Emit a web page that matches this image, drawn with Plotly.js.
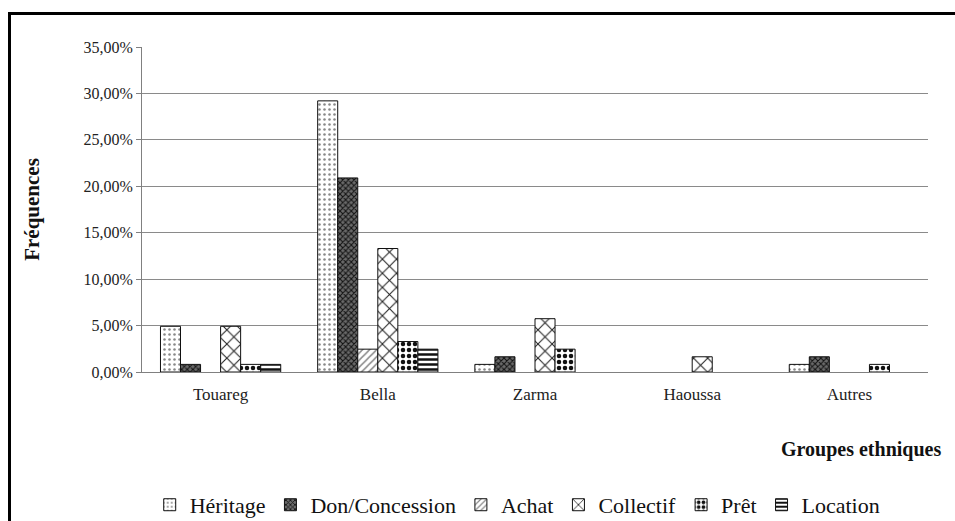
<!DOCTYPE html>
<html>
<head>
<meta charset="utf-8">
<script src="https://cdn.plot.ly/plotly-3.0.1.min.js"></script>
<style>
  html, body { margin: 0; padding: 0; background: #fff; }
  #wrap { position: relative; width: 955px; height: 521px; overflow: hidden; }
  #chart { position: absolute; left: 0; top: 0; width: 955px; height: 521px; }
  #frame { position: absolute; left: 8px; top: 12px; width: 960px; height: 530px;
           border-left: 3px solid #000; border-top: 3px solid #000; pointer-events: none; }
  #chart .legendtext { font-family: "Liberation Serif", "Times New Roman", serif !important; }
</style>
</head>
<body>
<div id="wrap">
  <div id="chart"></div>
  <div id="frame"></div>
</div>
<script>
// Data (percent values)
const categories = ["Touareg", "Bella", "Zarma", "Haoussa", "Autres"];
const heritage    = [4.92, 29.2, 0.82, 0, 0.82];
const donConcess  = [0.82, 20.9, 1.64, 0, 1.64];
const achat       = [0, 2.46, 0, 0, 0];
const collectif   = [4.92, 13.3, 5.74, 1.64, 0];
const pret        = [0.82, 3.28, 2.46, 0, 0.82];
const location_   = [0.82, 2.46, 0, 0, 0];
const seriesNames = ["Héritage", "Don/Concession", "Achat", "Collectif", "Prêt", "Location"];
const yTicks = [0, 5, 10, 15, 20, 25, 30, 35];
const yTickText = yTicks.map(v => v.toFixed(2).replace(".", ",") + "%");

const styles = [
  {shape: ".", size: 5, solidity: 0.2, fg: "#888", bg: "#fff"},
  {shape: "x", size: 4, solidity: 0.45, fg: "#111", bg: "#6a6a6a"},
  {shape: "/", size: 5, solidity: 0.3, fg: "#888", bg: "#fff"},
  {shape: "x", size: 10, solidity: 0.2, fg: "#222", bg: "#fff"},
  {shape: ".", size: 6, solidity: 0.45, fg: "#111", bg: "#fff"},
  {shape: "-", size: 5, solidity: 0.5, fg: "#111", bg: "#fff"}
];
const values = [heritage, donConcess, achat, collectif, pret, location_];

const serif = "Liberation Serif";

const traces = values.map((v, i) => ({
  type: "bar",
  name: seriesNames[i],
  x: categories,
  // zero-valued bars are not drawn in the original
  y: v.map(d => (d === 0 ? null : d)),
  marker: {
    color: styles[i].bg,
    line: {color: "#111", width: 1},
    pattern: {shape: styles[i].shape, size: styles[i].size, solidity: styles[i].solidity,
              fgcolor: styles[i].fg, bgcolor: styles[i].bg, fillmode: "replace"}
  },
  hoverinfo: "skip"
}));

const layout = {
  width: 955, height: 521,
  margin: {l: 142, r: 27, t: 47, b: 149, autoexpand: false},
  paper_bgcolor: "#fff", plot_bgcolor: "#fff",
  barmode: "group",
  bargap: 0.235,
  bargroupgap: 0,
  font: {family: serif, color: "#222"},
  xaxis: {
    type: "category",
    showgrid: false,
    showline: true, linecolor: "#808080", linewidth: 1,
    ticks: "", tickfont: {family: serif, size: 17, color: "#222"},
    ticklabelstandoff: 7,
    automargin: false
  },
  yaxis: {
    range: [0, 35],
    tickvals: yTicks,
    ticktext: yTickText,
    showgrid: true, gridcolor: "#8a8a8a", gridwidth: 1,
    showline: true, linecolor: "#808080", linewidth: 1,
    ticks: "outside", ticklen: 5, tickcolor: "#808080",
    tickfont: {family: serif, size: 16, color: "#222"},
    zeroline: false,
    automargin: false,
    title: {text: "<b>Fréquences</b>", font: {family: serif, size: 21, color: "#111"}, standoff: 38}
  },
  showlegend: true,
  legend: {
    orientation: "h",
    x: 0.478, xanchor: "center",
    y: -0.409, yanchor: "middle",
    font: {family: serif, size: 22, color: "#111", weight: "normal"},
    itemwidth: 30,
    traceorder: "normal"
  },
  annotations: [
    {text: "<b>Groupes ethniques</b>", xref: "paper", yref: "paper",
     x: 1.019, y: -0.237, xanchor: "right", yanchor: "middle", showarrow: false,
     font: {family: serif, size: 20, color: "#111"}}
  ]
};

Plotly.newPlot("chart", traces, layout, {displayModeBar: false, staticPlot: true});
</script>
</body>
</html>
